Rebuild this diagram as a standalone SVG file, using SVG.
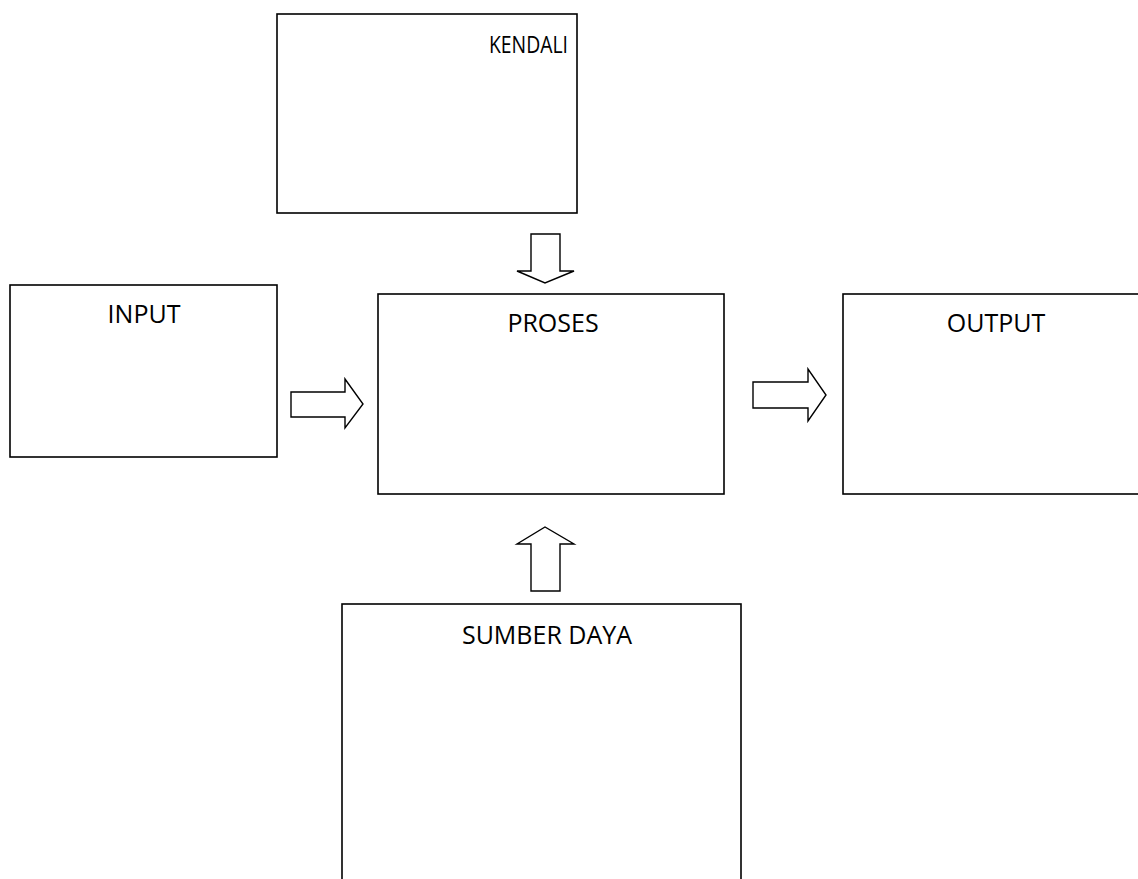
<svg xmlns="http://www.w3.org/2000/svg" width="1138" height="879" viewBox="0 0 1138 879">
<style>
.box{fill:#fff;stroke:#000;stroke-width:1.6}
.arr{fill:#fff;stroke:#000;stroke-width:1.4;stroke-linejoin:miter}
.lbl{font-family:"Open Sans","Liberation Sans",sans-serif;font-size:25px;fill:#000;text-anchor:middle}
</style>
<rect width="1138" height="879" fill="#fff"/>
<g id="kendali"><rect class="box" x="277" y="14" width="300" height="199"/><text class="lbl" x="489" y="53" style="text-anchor:start;font-size:23px" textLength="79" lengthAdjust="spacingAndGlyphs">KENDALI</text></g>
<g id="input"><rect class="box" x="10" y="285" width="267" height="172"/><text class="lbl" x="144" y="323">INPUT</text></g>
<g id="proses"><rect class="box" x="378" y="294" width="346" height="200"/><text class="lbl" x="553" y="332">PROSES</text></g>
<g id="output"><rect class="box" x="843" y="294" width="310" height="200"/><text class="lbl" x="996" y="332">OUTPUT</text></g>
<g id="sumberdaya"><rect class="box" x="342" y="604" width="399" height="300"/><text class="lbl" x="547" y="644">SUMBER DAYA</text></g>
<g id="connectors">
<polygon class="arr" points="531,234 560,234 560,271 574,271 545,283 517,271 531,271"/>
<polygon class="arr" points="291,392 345,392 345,379 363,404 345,428 345,417 291,417"/>
<polygon class="arr" points="753,382 808,382 808,369 826,395 808,421 808,408 753,408"/>
<polygon class="arr" points="531,591 560,591 560,544 574,544 545,527 517,544 531,544"/>
</g>
</svg>
